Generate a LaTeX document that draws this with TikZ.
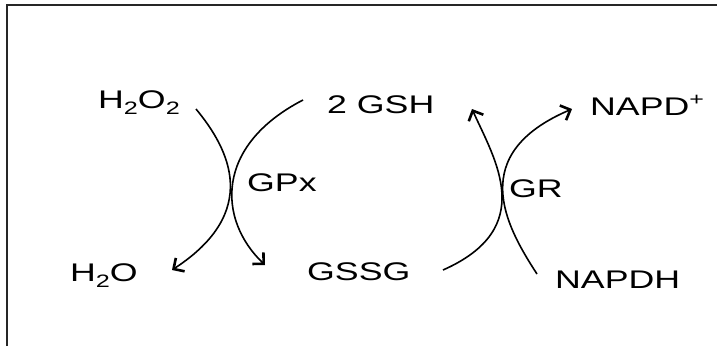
\documentclass[tikz,border=0pt]{standalone}
\usepackage{fontspec}
\setmainfont{Liberation Sans}
\usetikzlibrary{arrows.meta}
\newcommand{\wtext}[1]{\scalebox{1.4}[1]{#1}}
\newcommand{\lowtwo}{\raisebox{-6pt}{\fontsize{18}{20}\selectfont 2}}
\tikzset{
  lbl/.style={anchor=base west, inner sep=0pt, font=\fontsize{25.5}{30}\selectfont},
  rxn/.style={line width=1.6pt, -{Straight Barb[length=8pt,width=16pt,line width=2.6pt]}},
  frame/.style={line width=2pt, draw=black!85}
}
\begin{document}
\begin{tikzpicture}[x=1pt,y=-1pt]
\useasboundingbox (0,0) rectangle (717,346);
\draw[frame] (7,346) -- (7,5) -- (717,5);
% labels
\node[lbl] (h2o2)  at (98,108)  {\wtext{H\lowtwo O\lowtwo}};
\node[lbl] (gsh)   at (327,113) {\wtext{2 GSH}};
\node[lbl] (napdp) at (590,115) {\wtext{NAPD\textsuperscript{+}}};
\node[lbl] (gpx)   at (247,191) {\wtext{GPx}};
\node[lbl] (gr)    at (509,197) {\wtext{GR}};
\node[lbl] (h2o)   at (70,281)  {\wtext{H\lowtwo O}};
\node[lbl] (gssg)  at (307,280) {\wtext{GSSG}};
\node[lbl] (napdh) at (555,288) {\wtext{NAPDH}};
% arrow end points
\coordinate (a1s) at (196,109);
\coordinate (a1e) at (172,270);
\coordinate (a2s) at (303,100);
\coordinate (a2e) at (265,265);
\coordinate (a3s) at (443,270);
\coordinate (a3e) at (472,109);
\coordinate (a4s) at (537,274);
\coordinate (a4e) at (572,109);
% GPx reaction
\draw[rxn] (a1s) .. controls (230,150) and (260.7,212) .. (a1e);
\draw[rxn] (a2s) .. controls (214,146) and (218,220) .. (a2e);
% GR reaction
\draw[rxn] (a3s) .. controls (538,228) and (495,160) .. (a3e);
\draw[rxn] (a4s) .. controls (505,225) and (466.7,154) .. (a4e);
\end{tikzpicture}
\end{document}
